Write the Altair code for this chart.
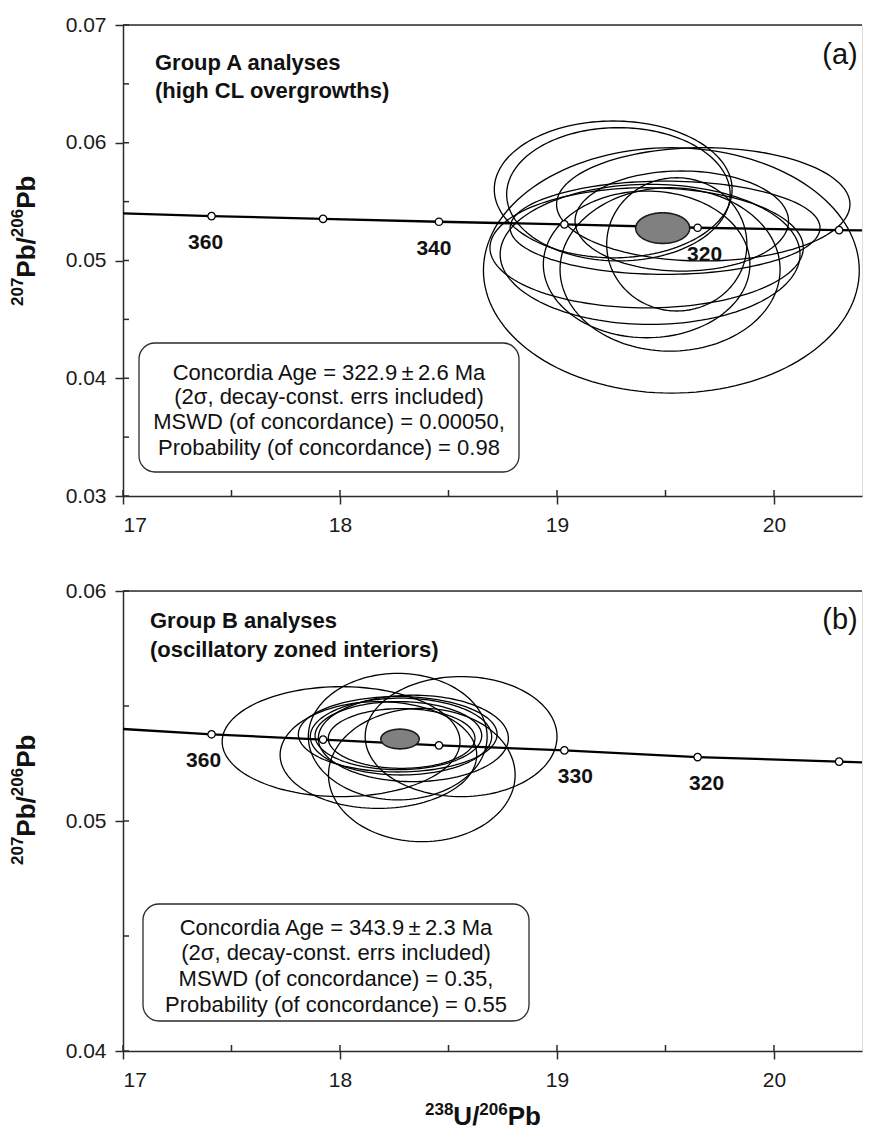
import altair as alt
import numpy as np
import pandas as pd

FONT = "Liberation Sans"
INK = "#2b2b2b"

# ---------------- data ----------------
X_DOMAIN = [17.0, 20.4055]
x_major = [17, 18, 19, 20]
x_minor = [17.5, 18.5, 19.5]

# concordia curve (Tera-Wasserburg), tick ages in Ma
conc_ages = [360, 350, 340, 330, 320, 310]
conc_x = [17.408, 17.922, 18.456, 19.034, 19.648, 20.300]
conc_y = [0.05377, 0.05354, 0.05329, 0.05307, 0.05278, 0.05258]
curve_x = [17.0] + conc_x + [20.4055]
curve_y = [0.05400] + conc_y + [0.05255]

# panel (a) Group A analyses: ellipse centre / semi-axes / tilt (dy per dx)
A_cx = [19.259, 19.283, 19.527, 19.575, 19.498, 19.413, 19.429, 19.413, 19.521, 19.552, 19.674]
A_cy = [0.05604, 0.05562, 0.04916, 0.05335, 0.05278, 0.05108, 0.05052, 0.04967, 0.04924, 0.05137, 0.05477]
A_rx = [0.548, 0.515, 0.866, 0.492, 0.714, 0.722, 0.691, 0.476, 0.507, 0.323, 0.676]
A_ry = [0.00581, 0.00566, 0.01042, 0.00425, 0.00396, 0.00510, 0.00595, 0.00623, 0.00694, 0.00566, 0.00481]
A_tilt = [0, 0, 0, 0, 0, 0, 0, 0, 0, 0, 0]
A_conc = [19.487, 0.05275, 0.1244, 0.00130]      # concordia-age ellipse
A_labels = [360, 340, 320]

# panel (b) Group B analyses
B_cx = [18.005, 18.558, 18.377, 18.266, 18.177, 18.266, 18.281, 18.269, 18.284, 18.338]
B_cy = [0.05345, 0.05367, 0.05200, 0.05367, 0.05287, 0.05377, 0.05367, 0.05371, 0.05359, 0.05359]
B_rx = [0.548, 0.442, 0.430, 0.412, 0.453, 0.458, 0.418, 0.384, 0.338, 0.438]
B_ry = [0.00239, 0.00261, 0.00290, 0.00275, 0.00232, 0.00164, 0.00167, 0.00148, 0.00130, 0.00188]
B_tilt = [0, 0, 0, 0, 0, 0, 0, 0, 0, 0]
B_conc = [18.2765, 0.053565, 0.0883, 0.000428]
B_labels = [360, 330, 320]

A_text = ["Concordia Age = 322.9\u2009\u00b1\u20092.6 Ma",
          "(2\u03c3, decay-const. errs included)",
          "MSWD (of concordance) = 0.00050,",
          "Probability (of concordance) = 0.98"]
B_text = ["Concordia Age = 343.9\u2009\u00b1\u20092.3 Ma",
          "(2\u03c3, decay-const. errs included)",
          "MSWD (of concordance) = 0.35,",
          "Probability (of concordance) = 0.55"]
A_group = ["Group A analyses", "(high CL overgrowths)"]
B_group = ["Group B analyses", "(oscillatory zoned interiors)"]

# axis titles as (text, is_superscript) pieces
Y_TITLE = [("207", True), ("Pb/", False), ("206", True), ("Pb", False)]
X_TITLE = [("238", True), ("U/", False), ("206", True), ("Pb", False)]

W = 739
MAIN_FS, SUP_FS = 26, 17
# Arial/Liberation Sans Bold advance widths (em)
ADV = {"P": 0.667, "b": 0.611, "/": 0.278, "U": 0.722}


def piece_width(s, sup):
    fs = SUP_FS if sup else MAIN_FS
    return sum(ADV.get(c, 0.556) for c in s) * fs


def ellipse_outline(cx, cy, rx, ry, tilt, n=144):
    rows = []
    for i, (a, b, c, d, s) in enumerate(zip(cx, cy, rx, ry, tilt)):
        t = np.linspace(0, 2 * np.pi, n + 1)
        xs = a + c * np.cos(t)
        ys = b + d * np.sin(t) + s * c * np.cos(t)
        for k in range(n + 1):
            rows.append({"id": i, "k": k, "x": xs[k], "y": ys[k]})
    return pd.DataFrame(rows)


def ellipse_fill(p, n=80):
    cx, cy, rx, ry = p
    t = np.linspace(np.pi, 0, n + 1)
    u = np.cos(t)
    xs = cx + rx * u
    h = ry * np.sqrt(np.clip(1 - u ** 2, 0, None))
    return pd.DataFrame({"x": xs, "y": cy + h, "y2": cy - h})


DUMMY = alt.Data(values=[{"a": 1}])


def text_layer(s, x, y, size, weight="normal", align="left", baseline="alphabetic", angle=0):
    kw = dict(font=FONT, fontSize=size, fontWeight=weight, align=align,
              baseline=baseline, color="#111")
    if angle:
        kw["angle"] = angle
    return alt.Chart(DUMMY).mark_text(**kw).encode(
        x=alt.value(x), y=alt.value(y), text=alt.value(s))


def y_title_layers(y_bottom, x_base=-88, sup_shift=12):
    out = []
    y = y_bottom
    for s, sup in Y_TITLE:
        out.append(text_layer(s, x_base - (sup_shift if sup else 0), y,
                              SUP_FS if sup else MAIN_FS, weight="bold", angle=270))
        y -= piece_width(s, sup)
    return out


def x_title_layers(x_left, y_base, sup_shift=10):
    out = []
    x = x_left
    for s, sup in X_TITLE:
        out.append(text_layer(s, x, y_base - (sup_shift if sup else 0),
                              SUP_FS if sup else MAIN_FS, weight="bold"))
        x += piece_width(s, sup)
    return out


def panel(H, ydom, ymaj, ymin, cx, cy, rx, ry, tilt, conc, labels, label_dx,
          box, box_lines, box_base, group_lines, group_x, group_base, tag, tag_y,
          with_xtitle, ytitle_bottom):
    xscale = alt.Scale(domain=X_DOMAIN, nice=False, zero=False)
    yscale = alt.Scale(domain=ydom, nice=False, zero=False)
    xaxis = alt.Axis(values=x_major, format="d", tickSize=8, tickWidth=1.5,
                     tickColor=INK, domainColor=INK, domainWidth=1.5,
                     labelFontSize=21, labelFont=FONT, labelColor="#1a1a1a",
                     labelPadding=10, grid=False)
    yaxis = alt.Axis(values=ymaj, format=".2f", tickSize=8, tickWidth=1.5,
                     tickColor=INK, domainColor=INK, domainWidth=1.5,
                     labelFontSize=21, labelFont=FONT, labelColor="#1a1a1a",
                     labelPadding=9, grid=False)

    def X(f):
        return alt.X(f"{f}:Q", scale=xscale, axis=xaxis, title=None)

    def Y(f):
        return alt.Y(f"{f}:Q", scale=yscale, axis=yaxis, title=None)

    layers = []
    # inward ticks
    layers.append(alt.Chart(pd.DataFrame({"x": x_major + x_minor})).mark_rule(
        color=INK, strokeWidth=1.5).encode(x=X("x"), y=alt.value(H), y2=alt.value(H - 6)))
    layers.append(alt.Chart(pd.DataFrame({"y": ymaj + ymin})).mark_rule(
        color=INK, strokeWidth=1.5).encode(y=Y("y"), x=alt.value(0), x2=alt.value(6)))
    # top frame line
    layers.append(alt.Chart(DUMMY).mark_rule(color=INK, strokeWidth=1.5).encode(
        x=alt.value(0), x2=alt.value(W), y=alt.value(0)))
    # results box
    layers.append(alt.Chart(DUMMY).mark_rect(
        cornerRadius=16, fill="white", stroke=INK, strokeWidth=1.3).encode(
        x=alt.value(box[0]), x2=alt.value(box[1]), y=alt.value(box[2]), y2=alt.value(box[3])))
    # error ellipses
    layers.append(alt.Chart(ellipse_outline(cx, cy, rx, ry, tilt)).mark_line(
        color="black", strokeWidth=1.3, clip=True).encode(
        x=X("x"), y=Y("y"), detail="id:N", order="k:Q"))
    # concordia curve
    cdf = pd.DataFrame({"x": curve_x, "y": curve_y})
    layers.append(alt.Chart(cdf).mark_line(color="black", strokeWidth=2.3).encode(
        x=X("x"), y=Y("y")))
    # concordia age ellipse
    layers.append(alt.Chart(ellipse_fill(conc)).mark_area(
        color="#808080", stroke="#1a1a1a", strokeWidth=1.6).encode(
        x=X("x"), y=Y("y"), y2="y2:Q"))
    # age markers
    mdf = pd.DataFrame({"x": conc_x, "y": conc_y, "age": conc_ages})
    layers.append(alt.Chart(mdf).mark_point(
        shape="circle", filled=True, fill="white", stroke="black", strokeWidth=1.3,
        size=55, opacity=1).encode(x=X("x"), y=Y("y")))
    for age, dx in zip(labels, label_dx):
        layers.append(alt.Chart(mdf).transform_filter(alt.datum.age == age).mark_text(
            font=FONT, fontSize=21, fontWeight="bold", dx=dx, dy=33,
            baseline="alphabetic", color="#111").encode(
            x=X("x"), y=Y("y"), text="age:N"))
    # box text
    bxc = (box[0] + box[1]) / 2
    for i, s in enumerate(box_lines):
        layers.append(text_layer(s, bxc, box_base[i], 22, align="center"))
    for i, s in enumerate(group_lines):
        layers.append(text_layer(s, group_x, group_base[i], 22, weight="bold"))
    layers.append(text_layer(tag, 717, tag_y, 29, align="center", baseline="middle"))
    # axis titles with real superscripts
    layers += y_title_layers(ytitle_bottom)
    if with_xtitle:
        layers += x_title_layers(302, H + 74)

    return alt.layer(*layers).properties(width=W, height=H)


pa = panel(471, [0.03, 0.07], [0.03, 0.04, 0.05, 0.06, 0.07], [0.035, 0.045, 0.055, 0.065],
           A_cx, A_cy, A_rx, A_ry, A_tilt, A_conc, A_labels, [-6, -5, 7],
           [16, 396, 318, 447], A_text, [355, 379, 404, 430],
           A_group, 32, [45, 73], "(a)", 30, False, 281)

pb = panel(460, [0.04, 0.06], [0.04, 0.05, 0.06], [0.045, 0.055],
           B_cx, B_cy, B_rx, B_ry, B_tilt, B_conc, B_labels, [-8, 11, 9],
           [20, 406, 313, 430], B_text, [344, 369, 395, 421],
           B_group, 27, [37, 66], "(b)", 29, True, 274)

chart = alt.vconcat(pa, pb, spacing=43).properties(
    padding={"left": 0, "top": 5, "right": 0, "bottom": 0}
).configure_view(stroke=None).configure(font=FONT)

chart.save("out.html", embed_options={"renderer": "svg", "actions": False})
